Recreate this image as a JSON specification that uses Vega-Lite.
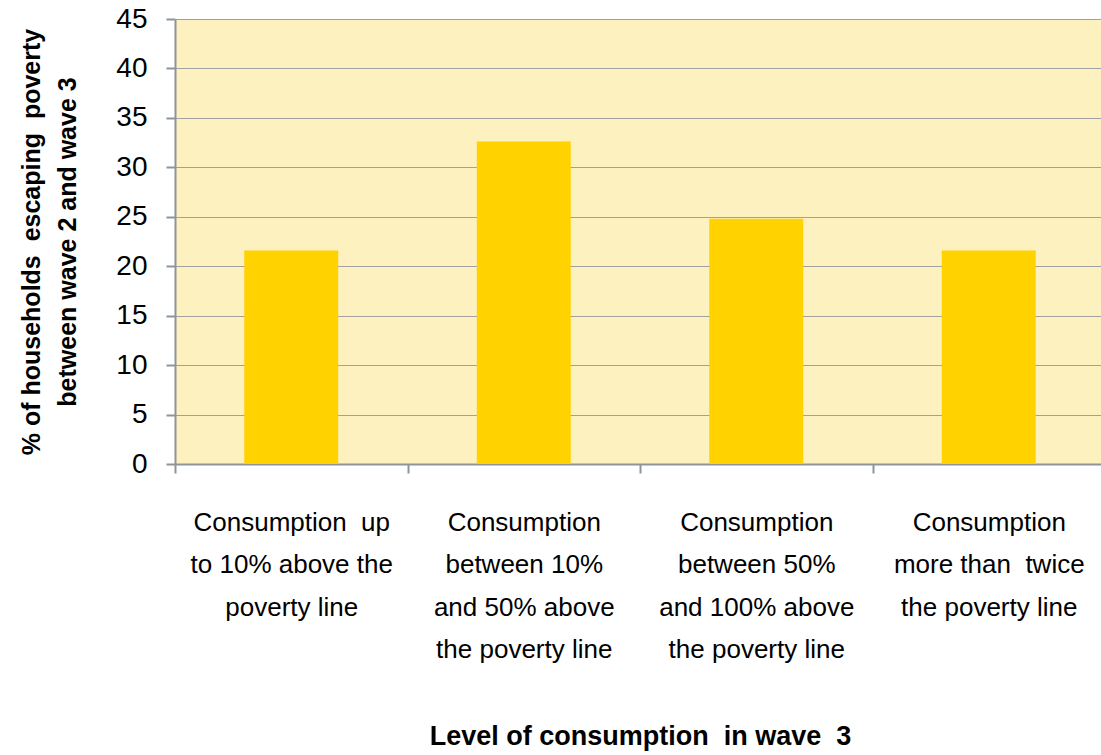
{
  "$schema": "https://vega.github.io/schema/vega-lite/v6.json",
  "autosize": {"type": "none"},
  "padding": {"left": 175, "top": 19, "right": 0, "bottom": 291},
  "width": 930,
  "height": 445,
  "background": "white",
  "config": {
    "font": "Liberation Sans",
    "view": {"fill": "#fef1c0", "stroke": null}
  },
  "data": {
    "values": [
      {"cat": "Consumption \u00a0up|to 10% above the|poverty line", "pct": 21.6},
      {"cat": "Consumption|between 10%|and 50% above|the poverty line", "pct": 32.6},
      {"cat": "Consumption|between 50%|and 100% above|the poverty line", "pct": 24.8},
      {"cat": "Consumption|more than \u00a0twice|the poverty line", "pct": 21.6}
    ]
  },
  "mark": {"type": "bar", "color": "#ffd200", "width": {"band": 0.404}},
  "encoding": {
    "x": {
      "field": "cat",
      "type": "nominal",
      "sort": null,
      "scale": {"paddingInner": 0, "paddingOuter": 0},
      "axis": {
        "title": "Level of consumption \u00a0in wave \u00a03",
        "titleFontSize": 27,
        "titleFontWeight": "bold",
        "titleColor": "black",
        "titlePadding": 61,
        "labelExpr": "split(datum.label, '|')",
        "labelAngle": 0,
        "labelFontSize": 26,
        "labelColor": "black",
        "labelLineHeight": 42.5,
        "labelPadding": 36,
        "labelAlign": "center",
        "labelLimit": 400,
        "tickBand": "extent",
        "tickSize": 9,
        "tickWidth": 2,
        "tickColor": "#8e9499",
        "domainColor": "#8e9499",
        "domainWidth": 2,
        "grid": false
      }
    },
    "y": {
      "field": "pct",
      "type": "quantitative",
      "scale": {"domain": [0, 45]},
      "axis": {
        "title": ["% of households \u00a0escaping \u00a0poverty", "between wave 2 and wave 3"],
        "titleFontSize": 25,
        "titleFontWeight": "bold",
        "titleColor": "black",
        "titleLineHeight": 36,
        "titlePadding": 35,
        "values": [0, 5, 10, 15, 20, 25, 30, 35, 40, 45],
        "labelFontSize": 28,
        "labelColor": "black",
        "labelPadding": 19,
        "tickSize": 9,
        "tickWidth": 2,
        "tickColor": "#8e9499",
        "domainColor": "#8e9499",
        "domainWidth": 2,
        "gridColor": "#a0a0a0",
        "gridWidth": 1.2
      }
    }
  }
}
